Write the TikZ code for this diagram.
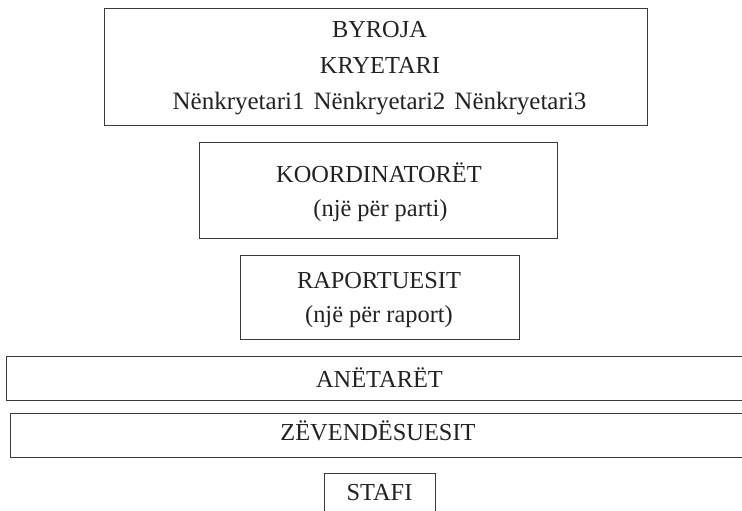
\documentclass[tikz,border=0pt]{standalone}
\usepackage{fontspec}
\setmainfont{Liberation Serif}
\definecolor{ink}{HTML}{222222}
\definecolor{edge}{HTML}{3A3A3A}
\tikzset{
  box/.style={draw=edge, line width=1pt, rectangle, inner sep=0pt},
  lbl/.style={anchor=base, inner sep=0pt, text=ink, font=\fontsize{24.4}{29}\selectfont}
}
\begin{document}
\begin{tikzpicture}[x=1pt, y=-1pt]
\useasboundingbox (0,0) rectangle (742,511);
% boxes
\node[box, minimum width=543pt, minimum height=116pt] (b1) at (375.5,67) {};
\node[box, minimum width=358pt, minimum height=96pt] (b2) at (378,190) {};
\node[box, minimum width=279pt, minimum height=84pt] (b3) at (379.5,297) {};
\node[box, minimum width=747pt, minimum height=44pt] (b4) at (379.5,378) {};
\node[box, minimum width=736pt, minimum height=44pt] (b5) at (378,435) {};
\node[box, minimum width=111pt, minimum height=67pt] (b6) at (379.5,506.5) {};
% texts
\node[lbl] (t1) at (379.5,38) {BYROJA};
\node[lbl] (t2) at (380,74) {KRYETARI};
\node[lbl, font=\fontsize{25}{29}\selectfont] (t3) at (379.5,110) {Nënkryetari1\hspace{9pt}Nënkryetari2\hspace{9pt}Nënkryetari3};
\node[lbl] (t4) at (379,182) {KOORDINATORËT};
\node[lbl] (t5) at (380.5,216) {(një për parti)};
\node[lbl] (t6) at (379,288) {RAPORTUESIT};
\node[lbl] (t7) at (379,322) {(një për raport)};
\node[lbl] (t8) at (379.5,387) {ANËTARËT};
\node[lbl] (t9) at (378,440) {ZËVENDËSUESIT};
\node[lbl] (t10) at (379.5,500) {STAFI};
\end{tikzpicture}
\end{document}
